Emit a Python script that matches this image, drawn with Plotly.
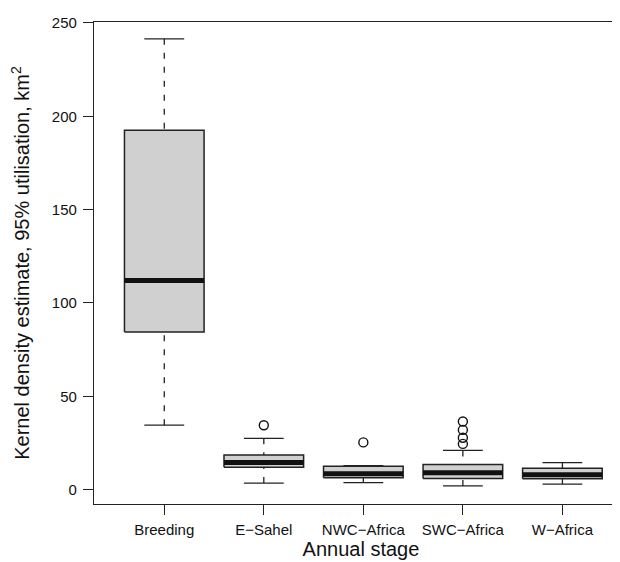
import plotly.graph_objects as go

# ---- data ----
categories = ["Breeding", "E\u2212Sahel", "NWC\u2212Africa", "SWC\u2212Africa", "W\u2212Africa"]
lower_whisker = [34.5, 3.5, 3.8, 2.0, 3.0]
q1 = [84.5, 12.0, 6.3, 6.0, 5.8]
median = [112.0, 14.5, 8.5, 9.0, 8.0]
q3 = [192.5, 18.5, 12.5, 13.5, 11.5]
upper_whisker = [241.5, 27.5, 12.8, 21.0, 14.5]
outliers = [[], [34.5], [25.3], [24.5, 27.8, 32.0, 36.5], []]

y_ticks = [0, 50, 100, 150, 200, 250]
x_title = "Annual stage"
y_title = "Kernel density estimate, 95% utilisation, km<sup>2</sup>"

BOX_HALF = 0.4
CAP_HALF = 0.2
positions = list(range(1, len(categories) + 1))

fig = go.Figure()

# whiskers (dashed)
wx, wy = [], []
for p, lo, a, b, hi in zip(positions, lower_whisker, q1, q3, upper_whisker):
    wx += [p, p, None, p, p, None]
    wy += [hi, b, None, lo, a, None]
fig.add_trace(go.Scatter(x=wx, y=wy, mode="lines",
                         line=dict(color="#222222", width=1.3, dash="6px,8px"),
                         hoverinfo="skip", showlegend=False))

# caps
cx, cy = [], []
for p, lo, hi in zip(positions, lower_whisker, upper_whisker):
    cx += [p - CAP_HALF, p + CAP_HALF, None, p - CAP_HALF, p + CAP_HALF, None]
    cy += [hi, hi, None, lo, lo, None]
fig.add_trace(go.Scatter(x=cx, y=cy, mode="lines",
                         line=dict(color="#222222", width=1.3),
                         hoverinfo="skip", showlegend=False))

# boxes
for p, a, b in zip(positions, q1, q3):
    fig.add_trace(go.Scatter(
        x=[p - BOX_HALF, p + BOX_HALF, p + BOX_HALF, p - BOX_HALF, p - BOX_HALF],
        y=[a, a, b, b, a], mode="lines", fill="toself",
        fillcolor="#cfd0cf", line=dict(color="#222222", width=1.5),
        hoverinfo="skip", showlegend=False))

# medians
mx, my = [], []
for p, m in zip(positions, median):
    mx += [p - BOX_HALF, p + BOX_HALF, None]
    my += [m, m, None]
fig.add_trace(go.Scatter(x=mx, y=my, mode="lines",
                         line=dict(color="#111111", width=5),
                         hoverinfo="skip", showlegend=False))

# outliers
ox, oy = [], []
for p, outs in zip(positions, outliers):
    for v in outs:
        ox.append(p)
        oy.append(v)
fig.add_trace(go.Scatter(x=ox, y=oy, mode="markers",
                         marker=dict(symbol="circle-open", size=9,
                                     color="#111111", line=dict(width=1.4)),
                         hoverinfo="skip", showlegend=False))

font_family = "Liberation Sans, Arial, Helvetica, sans-serif"

fig.update_layout(
    width=620, height=562,
    margin=dict(l=86, r=0, t=14, b=66),
    paper_bgcolor="white", plot_bgcolor="white",
    font=dict(family=font_family, color="#111111", size=15),
    showlegend=False,
    xaxis=dict(
        range=[0.294, 5.659],
        tickmode="array", tickvals=positions, ticktext=categories,
        ticks="outside", ticklen=10, tickwidth=1.2, tickcolor="#222222",
        showline=True, linecolor="#222222", linewidth=1.3, mirror=True,
        showgrid=False, zeroline=False,
        tickfont=dict(size=15), ticklabelstandoff=2,
        title=dict(text=x_title, font=dict(size=20), standoff=4),
    ),
    yaxis=dict(
        range=[-7.7, 250.5],
        tickmode="array", tickvals=y_ticks,
        ticks="outside", ticklen=10, tickwidth=1.2, tickcolor="#222222",
        showline=True, linecolor="#222222", linewidth=1.3, mirror=False,
        showgrid=False, zeroline=False,
        tickfont=dict(size=15), ticklabelstandoff=3,
        title=dict(text=y_title, font=dict(size=20), standoff=16),
    ),
)

fig.write_html("out.html")
